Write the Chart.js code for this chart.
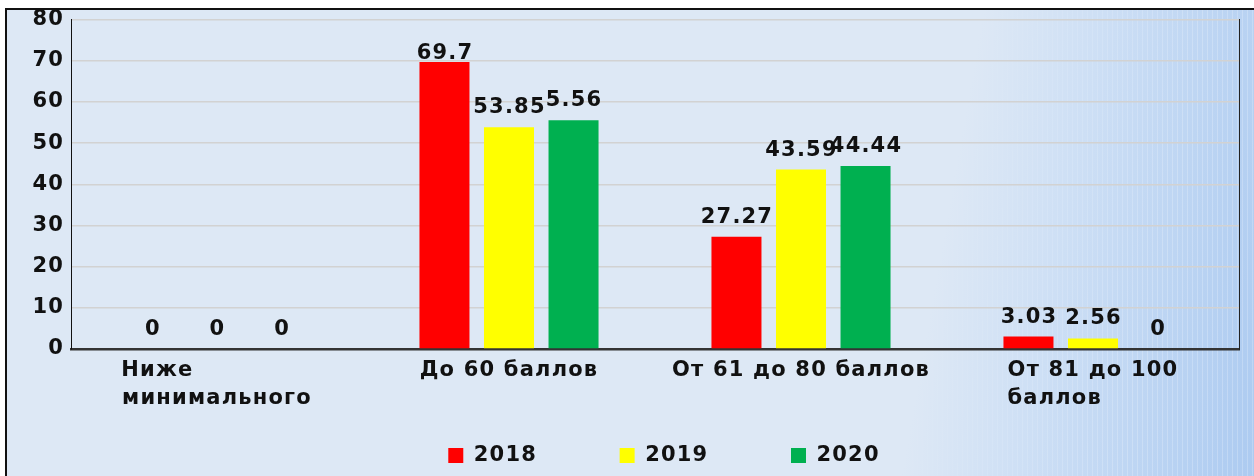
<!DOCTYPE html>
<html><head><meta charset="utf-8">
<script src="https://cdn.jsdelivr.net/npm/chart.js@4.4.1/dist/chart.umd.min.js"></script>
<style>
html,body{margin:0;padding:0;background:#fff;width:1254px;height:476px;overflow:hidden;}
.frame{position:absolute;left:5px;top:8px;width:1270px;height:490px;border-top:2px solid #111;border-left:2px solid #111;
 background:linear-gradient(100deg,#dde8f5 0%,#dde8f5 72%,#cddff5 81%,#a8c8f0 100%);}
.frame::after{content:"";position:absolute;inset:0;
 background:repeating-linear-gradient(90deg,rgba(255,255,255,0.22) 0 1px,rgba(255,255,255,0) 1px 5px);
 -webkit-mask-image:linear-gradient(100deg,transparent 70%,#000 88%);mask-image:linear-gradient(100deg,transparent 70%,#000 88%);}
#c{position:absolute;left:0;top:0;}
</style></head><body>
<div class="frame"></div>
<canvas id="c" width="1254" height="476"></canvas>
<script>
// ---- data ----
const categories = ["Ниже\nминимального", "До 60 баллов", "От 61 до 80 баллов", "От 81 до 100\nбаллов"];
const years = ["2018", "2019", "2020"];
const series2018 = [0, 69.7, 27.27, 3.03];
const series2019 = [0, 53.85, 43.59, 2.56];
const series2020 = [0, 55.56, 44.44, 0];
// value labels as printed on the chart
const labels2018 = ["0", "69.7", "27.27", "3.03"];
const labels2019 = ["0", "53.85", "43.59", "2.56"];
const labels2020 = ["0", "5.56", "44.44", "0"];
const yTicks = [0, 10, 20, 30, 40, 50, 60, 70, 80];

// ---- styling ----
const FONT_FAMILY = '"DejaVu Sans", "Liberation Sans", sans-serif';
const FONT_SIZE = 21;
const LS = '1.2px';
const LEGEND_SHIFT = 9;

const mctx = document.createElement('canvas').getContext('2d');
mctx.font = 'bold ' + FONT_SIZE + 'px ' + FONT_FAMILY;
mctx.letterSpacing = LS;
const mw = t => mctx.measureText(t).width;
function leftAlignLines(label) {
  const lines = label.split('\n');
  if (lines.length === 1) return label;
  const maxW = Math.max(...lines.map(mw));
  const sp = mw(' ');
  return lines.map(l => l + ' '.repeat(Math.max(0, Math.round((maxW - mw(l)) / sp))));
}
const xLabels = categories.map(leftAlignLines);

Chart.defaults.font.family = FONT_FAMILY;
Chart.defaults.font.size = FONT_SIZE;
Chart.defaults.font.weight = 'bold';
Chart.defaults.color = '#111';

const seriesData = [series2018, series2019, series2020];
const seriesLabels = [labels2018, labels2019, labels2020];
const colors = ['#ff0000', '#ffff00', '#00b050'];

const helperPlugin = {
  id: 'helper',
  beforeLayout(chart) { chart.ctx.letterSpacing = LS; },
  afterLayout(chart) {
    const lg = chart.legend;
    if (lg) { lg.left += LEGEND_SHIFT; lg.right += LEGEND_SHIFT; }
  },
  beforeDraw(chart) { chart.ctx.letterSpacing = LS; },
  afterDatasetsDraw(chart) {
    const ctx = chart.ctx;
    ctx.save();
    ctx.letterSpacing = LS;
    ctx.font = 'bold ' + FONT_SIZE + 'px ' + FONT_FAMILY;
    ctx.fillStyle = '#111';
    ctx.textAlign = 'center';
    ctx.textBaseline = 'alphabetic';
    chart.data.datasets.forEach((ds, i) => {
      const meta = chart.getDatasetMeta(i);
      meta.data.forEach((el, j) => {
        const y = Math.max(el.y - 14, chart.chartArea.top + 39);
        ctx.fillText(seriesLabels[i][j], el.x + 0.5, y);
      });
    });
    ctx.restore();
  }
};

new Chart(document.getElementById('c'), {
  type: 'bar',
  data: {
    labels: xLabels,
    datasets: years.map((y, i) => ({
      label: y,
      data: seriesData[i],
      backgroundColor: colors[i],
      borderWidth: 0,
      categoryPercentage: 0.663,
      barPercentage: 0.775
    }))
  },
  options: {
    responsive: false,
    animation: false,
    devicePixelRatio: 1,
    layout: { padding: { top: 19, left: 0, right: 15, bottom: 0 } },
    plugins: {
      tooltip: { enabled: false },
      legend: {
        position: 'bottom',
        fullSize: false,
        labels: {
          boxWidth: 15,
          boxHeight: 15,
          padding: 6,
          color: '#111',
          font: { size: FONT_SIZE, weight: 'bold', lineHeight: 1.2 },
          generateLabels(chart) {
            const items = Chart.defaults.plugins.legend.labels.generateLabels(chart);
            items.forEach((it, i) => {
              it.lineWidth = 0;
              if (i < items.length - 1) it.text = it.text + ' '.repeat(9);
            });
            return items;
          }
        }
      }
    },
    scales: {
      x: {
        grid: { display: false, drawTicks: false },
        border: { display: true, color: '#333', width: 2.5 },
        ticks: { padding: 7, color: '#111', font: { size: FONT_SIZE, weight: 'bold', lineHeight: 1.35 }, maxRotation: 0, autoSkip: false },
        afterFit(s) { s.height = 90; }
      },
      y: {
        min: 0, max: 80,
        afterBuildTicks(s) { s.ticks = yTicks.map(v => ({ value: v })); },
        grid: { color: '#d2d2d2', lineWidth: 1.5, drawTicks: false },
        border: { display: true, color: '#111', width: 1 },
        ticks: { padding: 7, color: '#111', font: { size: FONT_SIZE, weight: 'bold' } },
        afterFit(s) { s.width = 71; }
      },
      y2: {
        position: 'right',
        min: 0, max: 80,
        grid: { display: false, drawTicks: false },
        border: { display: true, color: '#222', width: 1 },
        ticks: { display: false },
        afterFit(s) { s.width = 0; }
      }
    }
  },
  plugins: [helperPlugin]
});
</script>
</body></html>
